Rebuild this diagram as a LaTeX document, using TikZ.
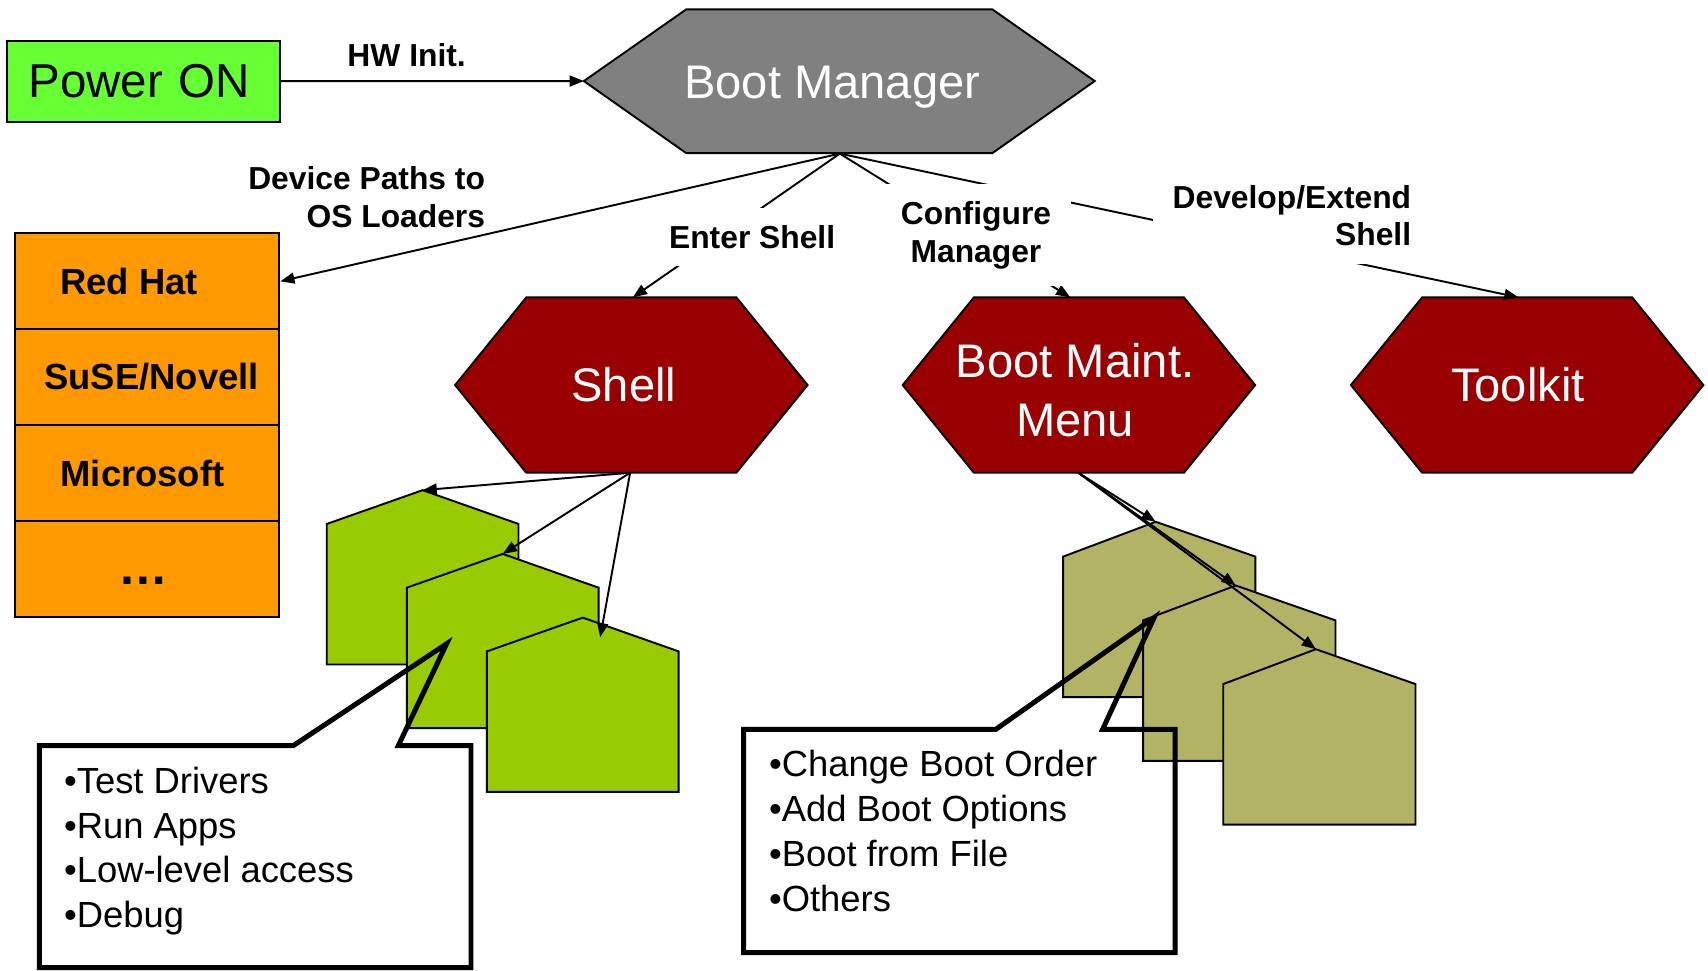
\documentclass[tikz,border=0pt]{standalone}
\usepackage{fontspec}
\setmainfont{Liberation Sans}
\usetikzlibrary{arrows.meta}

\definecolor{powergreen}{RGB}{102,255,51}
\definecolor{bootgray}{RGB}{128,128,128}
\definecolor{darkred}{RGB}{153,0,0}
\definecolor{osorange}{RGB}{255,153,0}
\definecolor{shellgreen}{RGB}{153,204,0}
\definecolor{maintolive}{RGB}{179,179,102}

\tikzset{
  conn/.style={line width=0.5pt, -{Triangle[length=0.13cm,width=0.1cm]}},
  hexgray/.style={fill=bootgray, draw=black, line width=0.5pt},
  hexred/.style={fill=darkred, draw=black, line width=0.5pt},
  hextext/.style={text=white, font=\fontsize{12.3}{15.25}\selectfont, align=center, inner sep=0pt},
  powerbox/.style={fill=powergreen, draw=black, line width=0.5pt, text width=2.105cm, align=left,
    inner xsep=0.2cm, inner ysep=0pt, minimum height=0.744cm, font=\fontsize{12.4}{15}\selectfont},
  osrow/.style={fill=osorange, draw=black, line width=0.5pt, minimum width=2.426cm,
    minimum height=0.881cm, inner sep=0pt},
  ostext/.style={font=\bfseries\fontsize{9.5}{11.5}\selectfont, inner sep=0pt, anchor=base},
  plaintag/.style={font=\bfseries\fontsize{8.3}{9.8}\selectfont, inner sep=0pt},
  edgetag/.style={font=\bfseries\fontsize{8.3}{9.8}\selectfont, fill=white,
    inner xsep=0.18cm, inner ysep=0.16cm},
  greenhouse/.style={fill=shellgreen, draw=black, line width=0.5pt},
  olivehouse/.style={fill=maintolive, draw=black, line width=0.5pt},
  bubble/.style={draw=black, line width=1.3pt},
  bubbletext/.style={font=\fontsize{9.5}{11.5}\selectfont, inner sep=0pt, anchor=base west}
}

\begin{document}
\begin{tikzpicture}[x=0.01cm, y=-0.01cm]
\useasboundingbox (0,0) rectangle (1568,890.5);

% Power ON and the Boot Manager
\node[powerbox] (power) at (131.5,74.5) {Power ON};
\filldraw[hexgray] (536,74.4) -- (630,8.6) -- (911,8.6) -- (1005,74.4) -- (911,140.6) -- (630,140.6) -- cycle;
\node[hextext, anchor=base] (bootmgr) at (764,90.3) {Boot Manager};
\coordinate (bm-w) at (536,74.4);
\coordinate (bm-s) at (771,141);

\draw[conn] (power.east) -- (bm-w);
\node[plaintag, anchor=base] (hwinit) at (373.3,61.2) {HW Init.};

% list of OS loaders
\foreach \name [count=\i from 0] in {redhat,suse,microsoft,more}
  \node[osrow] (\name) at (135.1,{258.25+88.1*\i}) {};
\node[ostext] (redhat-t) at (118.5,269.9) {Red Hat};
\node[ostext] (suse-t) at (139.2,358) {SuSE/Novell};
\node[ostext] (microsoft-t) at (130.8,446.8) {Microsoft};
\node[ostext, font=\bfseries\fontsize{13}{15}\selectfont] (more-t) at (131.6,537) {…};

% the three red hexagons
\foreach \cx in {579.6,990.5,1402}
  \filldraw[hexred] (\cx-161.8,353.5) -- (\cx-96.4,273) -- (\cx+96.4,273) -- (\cx+161.8,353.5)
    -- (\cx+96.4,434) -- (\cx-96.4,434) -- cycle;
\node[hextext, anchor=base] (shell) at (572.7,368.7) {Shell};
\node[hextext] (maint) at (987,358.3) {Boot Maint.\\Menu};
\node[hextext, anchor=base] (tool) at (1393.5,368.7) {Toolkit};

\coordinate (shell-n) at (581,273);
\coordinate (maint-n) at (982.5,273);
\coordinate (tool-n) at (1394,273);
\coordinate (shell-s) at (578.5,434);
\coordinate (maint-s) at (990,434);

% out of the Boot Manager
\draw[conn] (bm-s) -- (redhat.east);
\draw[conn] (bm-s) -- (shell-n);
\draw[conn] (bm-s) -- (maint-n);
\draw[conn] (bm-s) -- (tool-n);

\node[plaintag, align=right, anchor=north east] (devpaths) at (446,152.2) {Device Paths to\\OS Loaders};
\node[edgetag] (entershell) at (690.5,217.4) {Enter Shell};
\node[edgetag, align=center] (configure) at (896,216) {Configure\\Manager};
\node[edgetag, align=right] (develop) at (1186,198) {Develop/Extend\\Shell};

% green pages under the Shell
\foreach \i in {0,1,2} {
  \pgfmathsetmacro\hx{300+73.5*\i}
  \pgfmathsetmacro\hy{481+58.5*\i}
  \filldraw[greenhouse] (\hx,\hy+129) -- (\hx,\hy) -- (\hx+88,\hy-31) -- (\hx+176,\hy)
    -- (\hx+176,\hy+129) -- cycle;
  \coordinate (sh\i) at (\hx+88,\hy-31);
}
\coordinate (sh2in) at (551,585);
\draw[conn] (shell-s) -- (sh0);
\draw[conn] (shell-s) -- (sh1);
\draw[conn] (shell-s) -- (sh2in);

% olive pages under the Boot Maint. Menu
\foreach \i in {0,1,2} {
  \pgfmathsetmacro\hx{976+73.5*\i}
  \pgfmathsetmacro\hy{511+58.5*\i}
  \filldraw[olivehouse] (\hx,\hy+129) -- (\hx,\hy) -- (\hx+85,\hy-32) -- (\hx+176.5,\hy)
    -- (\hx+176.5,\hy+129) -- cycle;
  \coordinate (mh\i) at (\hx+85,\hy-32);
}
\draw[conn] (maint-s) -- (mh0);
\draw[conn] (maint-s) -- (mh1);
\draw[conn] (maint-s) -- (mh2);

% callout for the Shell
\draw[bubble] (269.3,684.5) -- (410,591) -- (365.7,684.5) -- (432.4,684.5) -- (432.4,888.3)
  -- (36.1,888.3) -- (36.1,684.5) -- cycle;
\foreach \t [count=\i from 0] in {Test Drivers, Run Apps, Low-level access, Debug}
  \node[bubbletext] (shellitem\i) at (58.1,{728.3+41.1*\i}) {•\t};

% callout for the Boot Maint. Menu
\draw[bubble] (914.3,669.5) -- (1059.5,567) -- (1012.3,669.5) -- (1078.7,669.5) -- (1078.7,874.6)
  -- (682.7,874.6) -- (682.7,669.5) -- cycle;
\foreach \t [count=\i from 0] in {Change Boot Order, Add Boot Options, Boot from File, Others}
  \node[bubbletext] (maintitem\i) at (705.3,{712.4+41.5*\i}) {•\t};

\end{tikzpicture}
\end{document}
